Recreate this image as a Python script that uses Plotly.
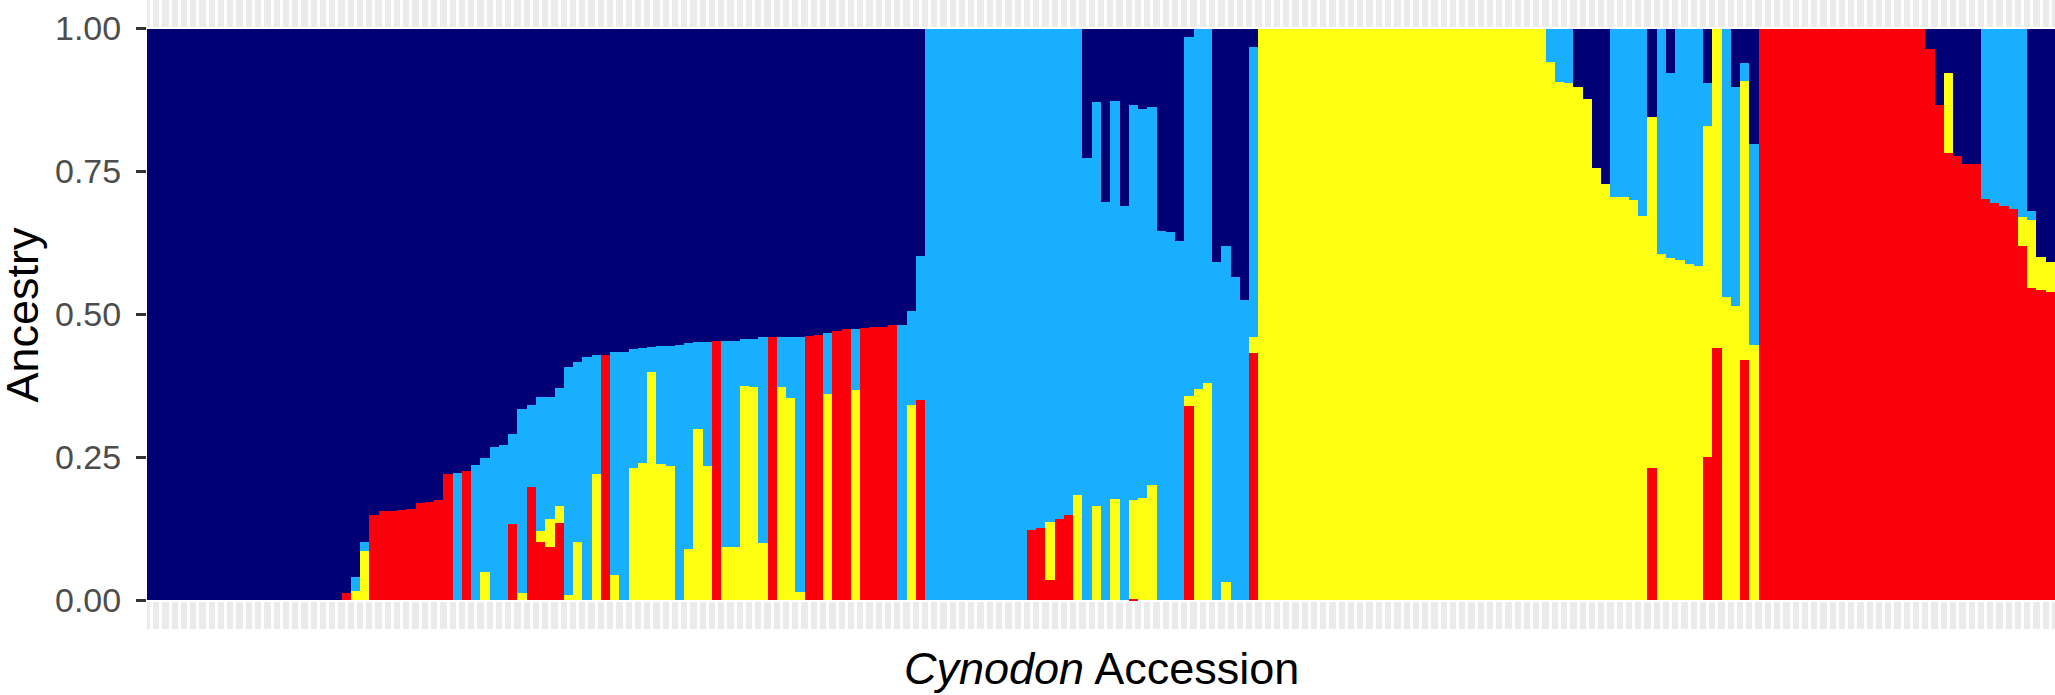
import plotly.graph_objects as go

# Ancestry proportions per accession (stack order bottom -> top: red, yellow, blue, navy)
red = ([0.0] * 21 +
       [0.013, 0.0, 0.0, 0.149, 0.157, 0.157, 0.158, 0.160, 0.171, 0.172, 0.176, 0.221,
        0.0, 0.227, 0.0, 0.0, 0.0, 0.0, 0.134, 0.0, 0.199, 0.103, 0.093, 0.135, 0.0,
        0.0, 0.0, 0.0, 0.430, 0.0, 0.0, 0.0, 0.0, 0.0, 0.0, 0.0, 0.0, 0.0, 0.0, 0.0,
        0.454, 0.0, 0.0, 0.0, 0.0, 0.0, 0.461, 0.0, 0.0, 0.0, 0.463, 0.464, 0.0, 0.471,
        0.474, 0.0, 0.477, 0.478, 0.478, 0.481, 0.0, 0.0, 0.351] +
       [0.0] * 11 +
       [0.123, 0.127, 0.036, 0.142, 0.149, 0.0, 0.0, 0.0, 0.0, 0.0, 0.0, 0.002, 0.0,
        0.0, 0.0, 0.0, 0.0, 0.340, 0.0, 0.0, 0.0, 0.0, 0.0, 0.0, 0.433] +
       [0.0] * 31 +
       [0.0, 0.0, 0.0, 0.0, 0.0, 0.0, 0.0, 0.0, 0.0, 0.0, 0.0, 0.232, 0.0, 0.0, 0.0,
        0.0, 0.0, 0.251, 0.441, 0.0, 0.0, 0.421, 0.0] +
       [1.0] * 18 +
       [0.965, 0.867, 0.782, 0.778, 0.763, 0.763, 0.702, 0.695, 0.690, 0.684, 0.620,
        0.547, 0.543, 0.540])

yellow = ([0.0] * 21 +
          [0.0, 0.017, 0.086, 0.0, 0.0, 0.0, 0.0, 0.0, 0.0, 0.0, 0.0, 0.0,
           0.0, 0.0, 0.0, 0.050, 0.0, 0.0, 0.0, 0.013, 0.0, 0.018, 0.049, 0.030, 0.010,
           0.103, 0.0, 0.221, 0.0, 0.045, 0.0, 0.232, 0.241, 0.400, 0.239, 0.235, 0.0,
           0.090, 0.300, 0.235, 0.0, 0.093, 0.093, 0.375, 0.374, 0.100, 0.0, 0.374,
           0.354, 0.015, 0.0, 0.0, 0.361, 0.0, 0.0, 0.368, 0.0, 0.0, 0.0, 0.0, 0.0,
           0.342, 0.0] +
          [0.0] * 11 +
          [0.0, 0.0, 0.102, 0.0, 0.0, 0.185, 0.0, 0.165, 0.0, 0.178, 0.0, 0.174, 0.179,
           0.202, 0.0, 0.0, 0.0, 0.018, 0.370, 0.381, 0.0, 0.032, 0.0, 0.0, 0.027] +
          [1.0] * 31 +
          [0.941, 0.907, 0.904, 0.898, 0.877, 0.757, 0.729, 0.706, 0.706, 0.701, 0.673,
           0.614, 0.606, 0.598, 0.596, 0.589, 0.584, 0.579, 0.559, 0.531, 0.515, 0.487,
           0.447] +
          [0.0] * 18 +
          [0.0, 0.0, 0.141, 0.0, 0.0, 0.0, 0.0, 0.0, 0.0, 0.0, 0.051, 0.119, 0.058,
           0.052])

blue = ([0.0] * 21 +
        [0.0, 0.024, 0.016, 0.0, 0.0, 0.0, 0.0, 0.0, 0.0, 0.0, 0.0, 0.0,
         0.223, 0.0, 0.237, 0.199, 0.268, 0.271, 0.157, 0.322, 0.143, 0.235, 0.214,
         0.207, 0.399, 0.314, 0.426, 0.209, 0.0, 0.390, 0.435, 0.208, 0.200, 0.044,
         0.206, 0.210, 0.447, 0.361, 0.152, 0.217, 0.0, 0.361, 0.361, 0.083, 0.084,
         0.360, 0.0, 0.087, 0.107, 0.446, 0.0, 0.0, 0.106, 0.0, 0.0, 0.106, 0.0, 0.0,
         0.0, 0.0, 0.482, 0.164, 0.252] +
        [1.0] * 11 +
        [0.877, 0.873, 0.862, 0.858, 0.851, 0.815, 0.773, 0.707, 0.697, 0.696, 0.690,
         0.691, 0.681, 0.661, 0.646, 0.644, 0.629, 0.628, 0.630, 0.619, 0.591, 0.587,
         0.566, 0.526, 0.507] +
        [0.0] * 31 +
        [0.059, 0.093, 0.096, 0.0, 0.0, 0.0, 0.0, 0.294, 0.294, 0.299, 0.327, 0.0,
         0.394, 0.325, 0.404, 0.411, 0.416, 0.075, 0.0, 0.469, 0.383, 0.031, 0.352] +
        [0.0] * 18 +
        [0.0, 0.0, 0.0, 0.0, 0.0, 0.0, 0.298, 0.305, 0.310, 0.316, 0.329, 0.015, 0.0,
         0.0])

navy = ([1.0] * 21 +
        [0.987, 0.959, 0.898, 0.851, 0.843, 0.843, 0.842, 0.840, 0.829, 0.828, 0.824,
         0.779, 0.777, 0.773, 0.763, 0.751, 0.732, 0.729, 0.709, 0.665, 0.658, 0.644,
         0.644, 0.628, 0.591, 0.583, 0.574, 0.570, 0.570, 0.565, 0.565, 0.560, 0.559,
         0.556, 0.555, 0.555, 0.553, 0.549, 0.548, 0.548, 0.546, 0.546, 0.546, 0.542,
         0.542, 0.540, 0.539, 0.539, 0.539, 0.539, 0.537, 0.536, 0.533, 0.529, 0.526,
         0.526, 0.523, 0.522, 0.522, 0.519, 0.518, 0.494, 0.397] +
        [0.0] * 11 +
        [0.0, 0.0, 0.0, 0.0, 0.0, 0.0, 0.227, 0.128, 0.303, 0.126, 0.310, 0.133, 0.140,
         0.137, 0.354, 0.356, 0.371, 0.014, 0.0, 0.0, 0.409, 0.381, 0.434, 0.474,
         0.033] +
        [0.0] * 31 +
        [0.0, 0.0, 0.0, 0.102, 0.123, 0.243, 0.271, 0.0, 0.0, 0.0, 0.0, 0.154, 0.0,
         0.077, 0.0, 0.0, 0.0, 0.095, 0.0, 0.0, 0.102, 0.061, 0.201] +
        [0.0] * 18 +
        [0.035, 0.133, 0.077, 0.222, 0.237, 0.237, 0.0, 0.0, 0.0, 0.0, 0.0, 0.319,
         0.399, 0.408])

accession = list(range(1, len(navy) + 1))

y_ticks = [0.0, 0.25, 0.5, 0.75, 1.0]
y_tick_labels = ["0.00", "0.25", "0.50", "0.75", "1.00"]

colors = {"red": "#F9000A", "yellow": "#FFFF12", "blue": "#18AFFF", "navy": "#000074"}

fig = go.Figure()
for name, vals in [("red", red), ("yellow", yellow), ("blue", blue), ("navy", navy)]:
    fig.add_trace(go.Bar(x=accession, y=vals, name=name,
                         marker=dict(color=colors[name], line=dict(width=0)),
                         showlegend=False))

fig.update_layout(
    barmode="stack", bargap=0,
    width=2055, height=695, autosize=False,
    margin=dict(l=147, r=0, t=0, b=66, pad=0),
    plot_bgcolor="#EBEBEB", paper_bgcolor="white",
    font=dict(family="Liberation Sans, Arial, sans-serif"),
)
fig.update_xaxes(range=[0.5, len(navy) + 0.5], tickmode="linear", tick0=1, dtick=1,
                 showticklabels=False, ticks="", showgrid=True, gridcolor="white",
                 gridwidth=3, zeroline=False, showline=False)
fig.update_yaxes(range=[-0.05, 1.05], tickvals=y_ticks, ticktext=y_tick_labels,
                 ticks="outside", ticklen=10, tickwidth=3, tickcolor="#333333",
                 tickfont=dict(size=34, color="#4D4D4D"), ticklabelstandoff=8,
                 showgrid=True, gridcolor="white", gridwidth=4, zeroline=False,
                 showline=False)

fig.add_annotation(text="Ancestry", xref="paper", yref="paper", x=0, y=0.5,
                   xanchor="center", yanchor="middle", xshift=-125, textangle=-90,
                   showarrow=False, font=dict(size=45, color="black"))
fig.add_annotation(text="<i>Cynodon</i> Accession", xref="paper", yref="paper", x=0.5, y=0,
                   xanchor="center", yanchor="middle", yshift=-39,
                   showarrow=False, font=dict(size=45, color="black"))

fig.write_html("out.html", config={"displayModeBar": False},
               post_script="document.body.style.margin='0';document.body.style.overflow='hidden';")
